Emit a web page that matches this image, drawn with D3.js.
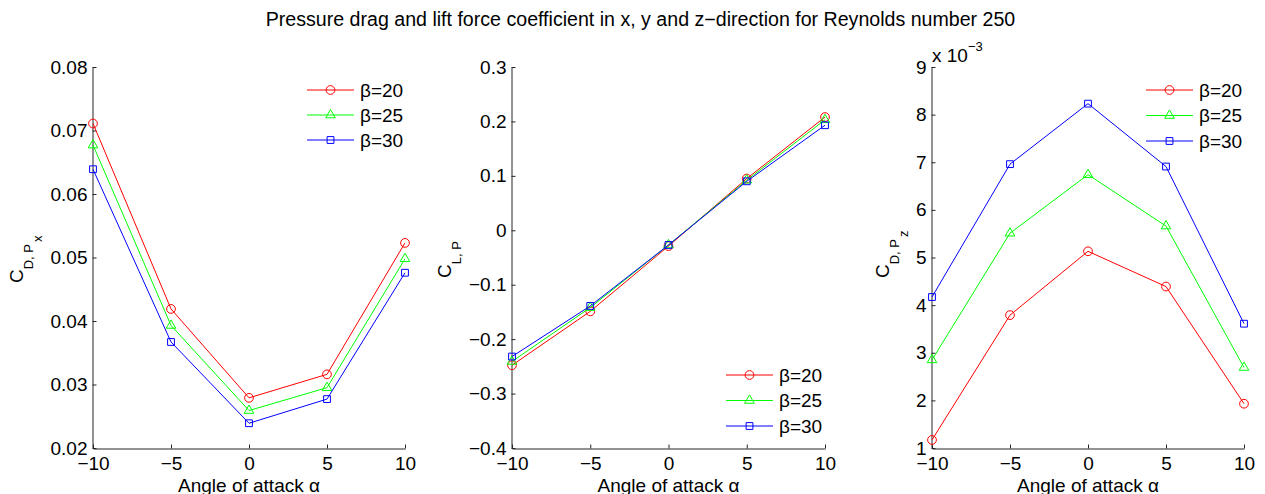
<!DOCTYPE html>
<html>
<head>
<meta charset="utf-8">
<script src="https://cdn.jsdelivr.net/npm/d3@7/dist/d3.min.js"></script>
<style>
  html, body { margin: 0; padding: 0; background: #fff; }
  svg { display: block; font-family: "Liberation Sans", Arial, Helvetica, sans-serif; }
</style>
</head>
<body>
<svg id="chart" width="1265" height="494"></svg>
<script>
// Angle of attack values (degrees)
const alpha = [-10, -5, 0, 5, 10];
const seriesNames = ["β=20", "β=25", "β=30"];
const seriesColors = ["#ff0000", "#00ff00", "#0000ff"];
const seriesMarkers = ["circle", "triangle", "square"];

// Pressure drag coefficient, x-direction
const cdx20 = [0.0711, 0.0419, 0.0279, 0.0316, 0.0523];
const cdx25 = [0.0677, 0.0393, 0.0259, 0.0295, 0.0498];
const cdx30 = [0.0639, 0.0367, 0.0239, 0.0277, 0.0476];

// Pressure lift coefficient
const cl20 = [-0.248, -0.149, -0.029, 0.095, 0.208];
const cl25 = [-0.241, -0.142, -0.027, 0.092, 0.203];
const cl30 = [-0.232, -0.139, -0.027, 0.090, 0.193];

// Pressure drag coefficient, z-direction
const cdz20 = [1.17e-3, 3.79e-3, 5.13e-3, 4.39e-3, 1.93e-3];
const cdz25 = [2.85e-3, 5.51e-3, 6.74e-3, 5.66e-3, 2.69e-3];
const cdz30 = [4.17e-3, 6.96e-3, 8.23e-3, 6.91e-3, 3.61e-3];

// Tick values and labels
const xTicks = [-10, -5, 0, 5, 10];
const xTickLabels = ["−10", "−5", "0", "5", "10"];
const y1Ticks = [0.02, 0.03, 0.04, 0.05, 0.06, 0.07, 0.08];
const y1TickLabels = ["0.02", "0.03", "0.04", "0.05", "0.06", "0.07", "0.08"];
const y2Ticks = [-0.4, -0.3, -0.2, -0.1, 0, 0.1, 0.2, 0.3];
const y2TickLabels = ["−0.4", "−0.3", "−0.2", "−0.1", "0", "0.1", "0.2", "0.3"];
const y3Ticks = [1e-3, 2e-3, 3e-3, 4e-3, 5e-3, 6e-3, 7e-3, 8e-3, 9e-3];
const y3TickLabels = ["1", "2", "3", "4", "5", "6", "7", "8", "9"];

const FS = 19;
const svg = d3.select("#chart");

svg.append("text")
  .attr("x", 640.5).attr("y", 26)
  .attr("text-anchor", "middle")
  .attr("font-size", 19.6)
  .text("Pressure drag and lift force coefficient in x, y and z−direction for Reynolds number 250");

const panels = [
  {
    left: 93, right: 405, top: 67, bottom: 448,
    domain: [0.02, 0.08], ticks: y1Ticks, tickLabels: y1TickLabels,
    series: [cdx20, cdx25, cdx30],
    ylabel: { x: 23, y: 283, base: "C", sub: "D, P", sub2: "x" },
    legend: { x0: 307, x1: 354, ys: [90, 115, 140] }
  },
  {
    left: 512, right: 825, top: 67, bottom: 448,
    domain: [-0.4, 0.3], ticks: y2Ticks, tickLabels: y2TickLabels,
    series: [cl20, cl25, cl30],
    ylabel: { x: 451, y: 278, base: "C", sub: "L, P", sub2: null },
    legend: { x0: 726, x1: 773, ys: [375, 400.5, 426] }
  },
  {
    left: 932, right: 1244, top: 67, bottom: 448,
    domain: [1e-3, 9e-3], ticks: y3Ticks, tickLabels: y3TickLabels,
    series: [cdz20, cdz25, cdz30],
    ylabel: { x: 889, y: 278, base: "C", sub: "D, P", sub2: "z" },
    legend: { x0: 1146, x1: 1193, ys: [90, 115.5, 141] },
    exponent: true
  }
];

function markerPath(kind) {
  const sym = kind === "circle" ? d3.symbolCircle
            : kind === "triangle" ? d3.symbolTriangle
            : d3.symbolSquare;
  const size = kind === "circle" ? 60 : kind === "triangle" ? 40 : 46;
  return d3.symbol().type(sym).size(size)();
}

panels.forEach(p => {
  const x = d3.scaleLinear().domain([-10, 10]).range([p.left, p.right]);
  const y = d3.scaleLinear().domain(p.domain).range([p.bottom, p.top]);
  const g = svg.append("g");

  // x axis
  const xAxis = d3.axisBottom(x)
    .tickValues(xTicks)
    .tickFormat((d, i) => xTickLabels[i])
    .tickSizeInner(-4).tickSizeOuter(0).tickPadding(8);
  const gx = g.append("g").attr("transform", `translate(0,${p.bottom + 0.5})`).call(xAxis);

  // y axis
  const yAxis = d3.axisLeft(y)
    .tickValues(p.ticks)
    .tickFormat((d, i) => p.tickLabels[i])
    .tickSizeInner(-4).tickSizeOuter(0).tickPadding(5);
  const gy = g.append("g").attr("transform", `translate(${p.left - 0.5},0)`).call(yAxis);

  [gx, gy].forEach(a => {
    a.attr("font-family", null).attr("font-size", FS);
    a.selectAll("text").attr("fill", "#000");
    a.selectAll("line").attr("stroke", "#262626");
    a.select(".domain").attr("stroke", "#262626");
  });

  // series lines and markers
  const line = d3.line().x((d, i) => x(alpha[i])).y(d => y(d));
  p.series.forEach((vals, si) => {
    g.append("path")
      .datum(vals)
      .attr("d", line)
      .attr("fill", "none")
      .attr("stroke", seriesColors[si])
      .attr("stroke-width", 1);
    g.selectAll(null)
      .data(vals)
      .enter().append("path")
      .attr("d", markerPath(seriesMarkers[si]))
      .attr("transform", (d, i) => `translate(${x(alpha[i])},${y(d)})`)
      .attr("fill", "none")
      .attr("stroke", seriesColors[si])
      .attr("stroke-width", 1);
  });

  // legend
  seriesNames.forEach((name, si) => {
    const ly = p.legend.ys[si];
    g.append("line")
      .attr("x1", p.legend.x0).attr("x2", p.legend.x1)
      .attr("y1", ly).attr("y2", ly)
      .attr("stroke", seriesColors[si]).attr("stroke-width", 1);
    g.append("path")
      .attr("d", markerPath(seriesMarkers[si]))
      .attr("transform", `translate(${(p.legend.x0 + p.legend.x1) / 2},${ly})`)
      .attr("fill", "none").attr("stroke", seriesColors[si]).attr("stroke-width", 1);
    g.append("text")
      .attr("x", p.legend.x1 + 6).attr("y", ly)
      .attr("dy", "0.36em")
      .attr("font-size", FS)
      .text(name);
  });

  // x label
  g.append("text")
    .attr("x", (p.left + p.right) / 2).attr("y", 492)
    .attr("text-anchor", "middle")
    .attr("font-size", FS)
    .text("Angle of attack α");

  // y label with nested subscripts
  const yl = g.append("text")
    .attr("transform", `translate(${p.ylabel.x},${p.ylabel.y}) rotate(-90)`)
    .attr("font-size", FS);
  yl.append("tspan").text(p.ylabel.base);
  yl.append("tspan").attr("font-size", 13).attr("dy", 10).text(p.ylabel.sub);
  if (p.ylabel.sub2) {
    yl.append("tspan").attr("font-size", 13).attr("dy", 9).attr("dx", 2).text(p.ylabel.sub2);
  }

  // scale exponent
  if (p.exponent) {
    const ex = g.append("text").attr("x", p.left).attr("y", 62).attr("font-size", FS);
    ex.append("tspan").text("x 10");
    ex.append("tspan").attr("font-size", 13).attr("dy", -11).text("−3");
  }
});
</script>
</body>
</html>
